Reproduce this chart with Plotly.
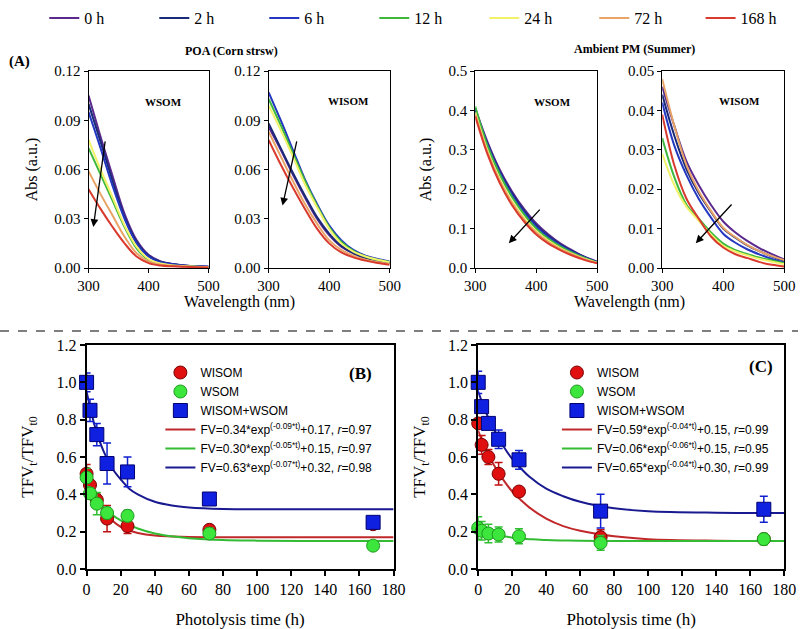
import plotly.graph_objects as go

# ---------------- data: spectra (panel A) ----------------
wavelength = [300, 320, 340, 360, 380, 400, 420, 440, 460, 480, 500]
time_labels = ["0 h", "2 h", "6 h", "12 h", "24 h", "72 h", "168 h"]
time_colors = ["#5B2A8E", "#1B2A78", "#2337C0", "#3DB83D", "#F2F26A", "#E8A466", "#D93A2E"]

poa_wsom = [
    [0.105, 0.080, 0.056, 0.033, 0.017, 0.008, 0.004, 0.0025, 0.0015, 0.0010, 0.0008],
    [0.100, 0.077, 0.053, 0.031, 0.016, 0.0075, 0.0038, 0.0024, 0.0015, 0.0010, 0.0008],
    [0.095, 0.073, 0.050, 0.030, 0.015, 0.007, 0.0036, 0.0023, 0.0014, 0.0010, 0.0007],
    [0.073, 0.057, 0.041, 0.025, 0.012, 0.005, 0.0025, 0.0015, 0.0010, 0.0008, 0.0005],
    [0.078, 0.060, 0.043, 0.026, 0.013, 0.0055, 0.0027, 0.0016, 0.0011, 0.0008, 0.0005],
    [0.059, 0.045, 0.032, 0.019, 0.009, 0.004, 0.0020, 0.0013, 0.0009, 0.0006, 0.0004],
    [0.048, 0.036, 0.025, 0.015, 0.007, 0.003, 0.0015, 0.0010, 0.0007, 0.0005, 0.0003],
]
poa_wisom = [
    [0.086, 0.072, 0.057, 0.043, 0.030, 0.020, 0.013, 0.009, 0.006, 0.0045, 0.003],
    [0.088, 0.073, 0.058, 0.044, 0.031, 0.021, 0.0135, 0.009, 0.006, 0.0045, 0.003],
    [0.107, 0.090, 0.072, 0.054, 0.039, 0.026, 0.017, 0.011, 0.0075, 0.0055, 0.004],
    [0.103, 0.087, 0.070, 0.053, 0.038, 0.025, 0.016, 0.0105, 0.007, 0.005, 0.0037],
    [0.099, 0.084, 0.068, 0.051, 0.037, 0.024, 0.015, 0.010, 0.007, 0.005, 0.0035],
    [0.083, 0.068, 0.053, 0.039, 0.027, 0.017, 0.011, 0.0075, 0.005, 0.0035, 0.0025],
    [0.078, 0.063, 0.049, 0.036, 0.024, 0.015, 0.0095, 0.0065, 0.0045, 0.003, 0.002],
]
amb_wsom = [
    [0.405, 0.320, 0.250, 0.195, 0.150, 0.113, 0.085, 0.062, 0.044, 0.028, 0.016],
    [0.400, 0.315, 0.245, 0.190, 0.145, 0.108, 0.081, 0.059, 0.042, 0.027, 0.015],
    [0.405, 0.313, 0.242, 0.186, 0.141, 0.105, 0.078, 0.057, 0.040, 0.026, 0.015],
    [0.410, 0.310, 0.238, 0.181, 0.136, 0.100, 0.074, 0.054, 0.038, 0.025, 0.014],
    [0.395, 0.298, 0.226, 0.170, 0.127, 0.093, 0.069, 0.050, 0.035, 0.023, 0.013],
    [0.390, 0.294, 0.222, 0.166, 0.123, 0.090, 0.066, 0.048, 0.034, 0.022, 0.0125],
    [0.385, 0.289, 0.216, 0.160, 0.118, 0.085, 0.062, 0.045, 0.031, 0.020, 0.012],
]
amb_wisom = [
    [0.046, 0.036, 0.027, 0.021, 0.016, 0.0118, 0.009, 0.0068, 0.005, 0.0035, 0.0022],
    [0.044, 0.0335, 0.025, 0.019, 0.0143, 0.010, 0.0077, 0.0057, 0.0042, 0.0029, 0.0018],
    [0.042, 0.031, 0.0235, 0.0175, 0.0128, 0.0087, 0.0064, 0.0047, 0.0034, 0.0023, 0.0014],
    [0.033, 0.023, 0.016, 0.0125, 0.009, 0.0062, 0.0045, 0.0035, 0.0026, 0.0019, 0.0012],
    [0.029, 0.021, 0.0155, 0.012, 0.0085, 0.0056, 0.0042, 0.0032, 0.0023, 0.0016, 0.0010],
    [0.048, 0.036, 0.026, 0.0195, 0.0145, 0.0102, 0.0078, 0.0058, 0.0042, 0.0030, 0.0020],
    [0.039, 0.026, 0.0175, 0.0125, 0.008, 0.0052, 0.0035, 0.0025, 0.0015, 0.0008, 0.0004],
]

# ---------------- data: photolysis kinetics (panels B, C) ----------------
photolysis_time = [0, 2, 6, 12, 24, 72, 168]

b_wisom = [0.51, 0.45, 0.37, 0.27, 0.23, 0.21, 0.24]
b_wisom_err = [0.05, 0.03, 0.03, 0.07, 0.04, 0.02, 0.02]
b_wsom = [0.49, 0.405, 0.35, 0.30, 0.285, 0.19, 0.125]
b_wsom_err = [0.05, 0.03, 0.06, 0.03, 0.03, 0.03, 0.01]
b_total = [1.0, 0.85, 0.72, 0.565, 0.52, 0.375, 0.25]
b_total_err = [0.05, 0.06, 0.06, 0.11, 0.08, 0.01, 0.03]

c_wisom = [0.78, 0.665, 0.60, 0.51, 0.415, 0.17, 0.16]
c_wisom_err = [0.03, 0.05, 0.04, 0.06, 0.02, 0.04, 0.02]
c_wsom = [0.22, 0.205, 0.19, 0.185, 0.175, 0.14, 0.16]
c_wsom_err = [0.06, 0.05, 0.05, 0.04, 0.04, 0.04, 0.03]
c_total = [1.0, 0.87, 0.78, 0.695, 0.585, 0.31, 0.32]
c_total_err = [0.06, 0.03, 0.02, 0.05, 0.05, 0.09, 0.07]

# fitted curves
fit_time = [0, 5, 10, 15, 20, 25, 30, 40, 50, 60, 80, 100, 140, 180]
b_fit_wisom = [0.51, 0.39, 0.31, 0.26, 0.226, 0.206, 0.193, 0.179, 0.174, 0.171, 0.170, 0.170, 0.170, 0.170]
b_fit_wsom = [0.45, 0.38, 0.33, 0.29, 0.26, 0.236, 0.217, 0.19, 0.175, 0.165, 0.155, 0.152, 0.15, 0.15]
b_fit_total = [0.95, 0.76, 0.63, 0.54, 0.48, 0.43, 0.40, 0.36, 0.34, 0.33, 0.322, 0.32, 0.32, 0.32]
c_fit_wisom = [0.74, 0.63, 0.545, 0.475, 0.415, 0.37, 0.33, 0.27, 0.23, 0.205, 0.175, 0.16, 0.152, 0.15]
c_fit_wsom = [0.21, 0.195, 0.183, 0.175, 0.168, 0.163, 0.16, 0.155, 0.153, 0.152, 0.15, 0.15, 0.15, 0.15]
c_fit_total = [0.95, 0.83, 0.735, 0.655, 0.59, 0.54, 0.495, 0.43, 0.39, 0.36, 0.325, 0.31, 0.302, 0.30]

b_fit_labels = [
    "FV=0.34*exp<sup>(-0.09*t)</sup>+0.17, <i>r</i>=0.97",
    "FV=0.30*exp<sup>(-0.05*t)</sup>+0.15, <i>r</i>=0.97",
    "FV=0.63*exp<sup>(-0.07*t)</sup>+0.32, <i>r</i>=0.98",
]
c_fit_labels = [
    "FV=0.59*exp<sup>(-0.04*t)</sup>+0.15, <i>r</i>=0.99",
    "FV=0.06*exp<sup>(-0.06*t)</sup>+0.15, <i>r</i>=0.95",
    "FV=0.65*exp<sup>(-0.04*t)</sup>+0.30, <i>r</i>=0.99",
]
group_labels = ["WISOM", "WSOM", "WISOM+WSOM"]

SERIF = "Liberation Serif"
SANS = "Liberation Sans"

FIG_W, FIG_H = 811, 629

def PX(X):
    return X / FIG_W

def PY(Y):
    return 1 - Y / FIG_H

def W(x0, x1):
    return [PX(x0), PX(x1)]

def H(top, bottom):
    return [PY(bottom), PY(top)]

fig = go.Figure()

# ---------------- spectra ----------------
spectra_panels = [(poa_wsom, "x", "y"), (poa_wisom, "x2", "y2"),
                  (amb_wsom, "x3", "y3"), (amb_wisom, "x4", "y4")]
for pi, (panel, xa, ya) in enumerate(spectra_panels):
    for i, vals in enumerate(panel):
        fig.add_trace(go.Scatter(
            x=wavelength, y=vals, mode="lines", line=dict(color=time_colors[i], width=2, shape="spline"),
            name=time_labels[i], showlegend=(pi == 0), legend=("legend4" if i == 6 else "legend"),
            xaxis=xa, yaxis=ya, hoverinfo="skip"))

# ---------------- kinetics ----------------
marker_styles = [
    dict(symbol="circle", color="#E01010", size=13, line=dict(color="#7A0000", width=1)),
    dict(symbol="circle", color="#3CE63C", size=13, line=dict(color="#1E9A1E", width=1)),
    dict(symbol="square", color="#1020E0", size=14, line=dict(color="#000070", width=1)),
]
err_colors = ["#C01010", "#30C030", "#1020D0"]
line_colors = ["#C0282A", "#33BB33", "#1A1A90"]

kin_panels = [
    ("x5", "y5", "legend2", [b_wisom, b_wsom, b_total], [b_wisom_err, b_wsom_err, b_total_err],
     [b_fit_wisom, b_fit_wsom, b_fit_total], b_fit_labels),
    ("x6", "y6", "legend3", [c_wisom, c_wsom, c_total], [c_wisom_err, c_wsom_err, c_total_err],
     [c_fit_wisom, c_fit_wsom, c_fit_total], c_fit_labels),
]
for xa, ya, lg, series, errs, fits, flabels in kin_panels:
    for k in range(3):
        fig.add_trace(go.Scatter(
            x=fit_time, y=fits[k], mode="lines", line=dict(color=line_colors[k], width=2, shape="spline"),
            name=flabels[k], legend=lg, xaxis=xa, yaxis=ya, showlegend=False, hoverinfo="skip"))
    for k in range(3):
        fig.add_trace(go.Scatter(
            x=photolysis_time, y=series[k], mode="markers", marker=marker_styles[k],
            error_y=dict(type="data", array=errs[k], color=err_colors[k], thickness=1.5, width=4),
            name=group_labels[k], legend=lg, xaxis=xa, yaxis=ya, cliponaxis=False))
    for k in range(3):
        fig.add_trace(go.Scatter(
            x=[None], y=[None], mode="lines", line=dict(color=line_colors[k], width=2),
            name=flabels[k], legend=lg, xaxis=xa, yaxis=ya))

# ---------------- axes ----------------
top_dom = H(71, 268)
bot_dom = H(345, 569)

def ax_common(size):
    return dict(showline=True, mirror=True, linecolor="black", ticks="outside", tickcolor="black",
                showgrid=False, zeroline=False, automargin=False,
                tickfont=dict(family=SERIF, size=size, color="black"))

spec_x = dict(range=[300, 500], tickvals=[300, 400, 500], linewidth=1, ticklen=4, **ax_common(15))
abs_title = dict(text="Abs (a.u.)", font=dict(family=SERIF, size=16, color="black"), standoff=12)
spec_y = dict(linewidth=1, ticklen=4, **ax_common(15))
fig.update_layout(
    xaxis=dict(domain=W(90, 212), anchor="y", **spec_x),
    xaxis2=dict(domain=W(273, 396), anchor="y2", **spec_x),
    xaxis3=dict(domain=W(483, 607), anchor="y3", **spec_x),
    xaxis4=dict(domain=W(673, 797), anchor="y4", **spec_x),
    yaxis=dict(domain=top_dom, anchor="x", range=[0, 0.12], dtick=0.03, tickformat=".2f", title=abs_title, **spec_y),
    yaxis2=dict(domain=top_dom, anchor="x2", range=[0, 0.12], dtick=0.03, tickformat=".2f", **spec_y),
    yaxis3=dict(domain=top_dom, anchor="x3", range=[0, 0.5], dtick=0.1, tickformat=".1f", title=abs_title, **spec_y),
    yaxis4=dict(domain=top_dom, anchor="x4", range=[0, 0.05], dtick=0.01, tickformat=".2f", **spec_y),
)
kin_x = dict(range=[0, 180], dtick=20, linewidth=2, ticklen=5, tickwidth=1.5,
             title=dict(text="Photolysis time (h)", font=dict(family=SERIF, size=17, color="black"), standoff=22),
             **ax_common(16))
tfv_title = dict(text="TFV<sub>t</sub>/TFV<sub>t0</sub>", font=dict(family=SERIF, size=17, color="black"), standoff=18)
kin_y = dict(range=[0, 1.2], dtick=0.2, tickformat=".1f", linewidth=2, ticklen=5, tickwidth=1.5,
             title=tfv_title, **ax_common(16))
fig.update_layout(
    xaxis5=dict(domain=W(88, 400), anchor="y5", **kin_x),
    xaxis6=dict(domain=W(486, 797), anchor="y6", **kin_x),
    yaxis5=dict(domain=bot_dom, anchor="x5", **kin_y),
    yaxis6=dict(domain=bot_dom, anchor="x6", **kin_y),
)

# ---------------- legends ----------------
top_leg = dict(orientation="h", xanchor="left", yanchor="top",
               font=dict(family=SERIF, size=16, color="black"), bgcolor="rgba(0,0,0,0)",
               entrywidth=65, entrywidthmode="pixels", itemwidth=30)
fig.update_layout(
    legend=dict(x=PX(45), y=PY(1), **top_leg),
    legend4=dict(x=PX(712), y=PY(1), **top_leg),
    legend2=dict(x=PX(163), y=PY(358), xanchor="left", yanchor="top",
                 font=dict(family=SANS, size=12, color="black"), bgcolor="rgba(0,0,0,0)", itemwidth=30),
    legend3=dict(x=PX(566), y=PY(358), xanchor="left", yanchor="top",
                 font=dict(family=SANS, size=12, color="black"), bgcolor="rgba(0,0,0,0)", itemwidth=30),
)

# ---------------- annotations ----------------
ann = []
def text(x, y, t, size, xref="paper", yref="paper", bold=True, family=SERIF):
    ann.append(dict(x=x, y=y, xref=xref, yref=yref, text=("<b>%s</b>" % t) if bold else t, showarrow=False,
                    font=dict(family=family, size=size, color="black"), xanchor="center", yanchor="middle"))

text(PX(20), PY(62), "(A)", 15)
text(PX(235), PY(51), "POA (Corn strsw)", 12)
text(PX(645), PY(49), "Ambient PM (Summer)", 12)
text(PX(243), PY(302), "Wavelength (nm)", 16, bold=False)
text(PX(640), PY(302), "Wavelength (nm)", 16, bold=False)
text(425, 0.101, "WSOM", 11, xref="x", yref="y")
text(432, 0.1015, "WISOM", 11, xref="x2", yref="y2")
text(427, 0.421, "WSOM", 11, xref="x3", yref="y3")
text(427, 0.0424, "WISOM", 11, xref="x4", yref="y4")
text(PX(366), PY(373), "(B)", 17)
text(PX(773), PY(366), "(C)", 17)

arrows = [("x", "y", 328, 0.078, 308, 0.025), ("x2", "y2", 347, 0.078, 323, 0.038),
          ("x3", "y3", 408, 0.152, 355, 0.063), ("x4", "y4", 416, 0.0165, 355, 0.0063)]
for xa, ya, x0, y0, x1, y1 in arrows:
    ann.append(dict(x=x1, y=y1, ax=x0, ay=y0, xref=xa, yref=ya, axref=xa, ayref=ya, showarrow=True,
                    arrowhead=2, arrowsize=1.2, arrowwidth=1.3, arrowcolor="black", text=""))
fig.update_layout(annotations=ann)

fig.add_shape(type="line", xref="paper", yref="paper", x0=0, x1=1, y0=PY(331), y1=PY(331),
              line=dict(color="#555555", width=1.3, dash="dash"))

fig.update_layout(width=FIG_W, height=FIG_H, margin=dict(l=0, r=0, t=0, b=0),
                  paper_bgcolor="white", plot_bgcolor="white", hovermode=False)

fig.write_html("out.html",
               config={"displayModeBar": False, "responsive": False},
               post_script="document.body.style.margin='0';document.body.style.padding='0';"
                           "document.body.style.overflow='hidden';")
